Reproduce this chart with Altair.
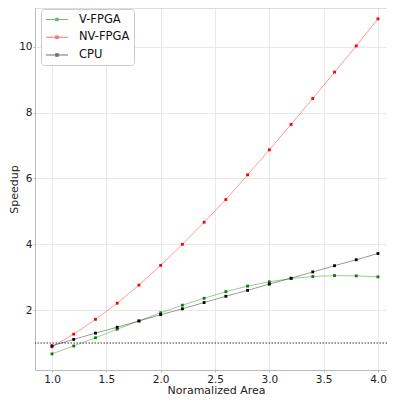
import altair as alt
import pandas as pd

area = [1.0, 1.2, 1.4, 1.6, 1.8, 2.0, 2.2, 2.4, 2.6, 2.8, 3.0, 3.2, 3.4, 3.6, 3.8, 4.0]
v_fpga = [0.67, 0.91, 1.16, 1.42, 1.67, 1.92, 2.15, 2.36, 2.56, 2.73, 2.86, 2.96, 3.02, 3.05, 3.04, 3.01]
nv_fpga = [0.885, 1.27, 1.72, 2.21, 2.76, 3.36, 4.0, 4.67, 5.36, 6.11, 6.87, 7.64, 8.43, 9.23, 10.03, 10.85]
cpu = [0.915, 1.11, 1.30, 1.48, 1.67, 1.86, 2.04, 2.23, 2.42, 2.60, 2.79, 2.97, 3.16, 3.35, 3.53, 3.72]
series_names = ["V-FPGA", "NV-FPGA", "CPU"]
series_colors = ["green", "red", "black"]
baseline = [1.0]
x_ticks = [1.0, 1.5, 2.0, 2.5, 3.0, 3.5, 4.0]
y_ticks = [2, 4, 6, 8, 10]
y_domain = [0.18, 11.18]

rows = []
for name, vals in zip(series_names, [v_fpga, nv_fpga, cpu]):
    for a, v in zip(area, vals):
        rows.append({"area": a, "speedup": v, "series": name})
df = pd.DataFrame(rows)
base_df = pd.DataFrame({"y": baseline})
top_df = pd.DataFrame({"y": [y_domain[1]]})

FONT = "DejaVu Sans"

x_enc = alt.X("area:Q", scale=alt.Scale(domain=[0.8436, 4.083], nice=False, zero=False),
              axis=alt.Axis(values=x_ticks, format=".1f", title="Noramalized Area",
                            labelFontSize=10.5, tickSize=2, labelPadding=2,
                            titleFontSize=11, titlePadding=0, titleFontWeight="normal",
                            titleX=181))
y_enc = alt.Y("speedup:Q", scale=alt.Scale(domain=y_domain, nice=False, zero=False),
              axis=alt.Axis(values=y_ticks, title="Speedup", labelFontSize=10.5,
                            tickSize=2, labelPadding=1, titleFontSize=11,
                            titleAngle=270, titleBaseline="middle", titleAlign="center",
                            titleX=-21, titleY=181, titleFontWeight="normal"))
color_enc = alt.Color("series:N",
                      scale=alt.Scale(domain=series_names, range=series_colors),
                      legend=alt.Legend(title=None, orient="none", legendX=6, legendY=1,
                                        labelFontSize=11.5, labelFont=FONT,
                                        symbolType="M-1,0H3M0.78,-0.22H1.22V0.22H0.78Z",
                                        symbolSize=121, symbolStrokeWidth=1.2,
                                        labelOffset=21, rowPadding=5.75,
                                        padding=4, strokeColor="#cccccc",
                                        fillColor="white", cornerRadius=3,
                                        symbolOpacity=0.55, labelColor="#111111"))

lines = alt.Chart(df).mark_line(strokeWidth=1, opacity=0.4).encode(
    x=x_enc, y=y_enc, color=color_enc)
points = alt.Chart(df).mark_square(size=8, opacity=1, filled=True).encode(
    x="area:Q", y="speedup:Q", color=alt.Color("series:N", legend=None,
                                                scale=alt.Scale(domain=series_names, range=series_colors)))
rule = alt.Chart(base_df).mark_rule(color="#333333", strokeWidth=1, strokeDash=[1.5, 1.5]).encode(
    y="y:Q")
top_border = alt.Chart(top_df).mark_rule(color="#bbbbbb", strokeWidth=1).encode(y="y:Q")

chart = alt.layer(rule, lines, points, top_border).properties(
    width=352, height=362,
    autosize=alt.AutoSizeParams(type="none"),
    padding={"left": 27, "top": 0, "right": 0, "bottom": 28},
).configure_view(strokeWidth=0).configure_axis(
    gridColor="#e8e8e8", domainColor="#bbbbbb", tickColor="#bbbbbb",
    labelFont=FONT, titleFont=FONT, labelColor="#222222", titleColor="#222222"
).configure_legend(labelFont=FONT)

chart.save("out.html", embed_options={"renderer": "svg", "actions": False})
